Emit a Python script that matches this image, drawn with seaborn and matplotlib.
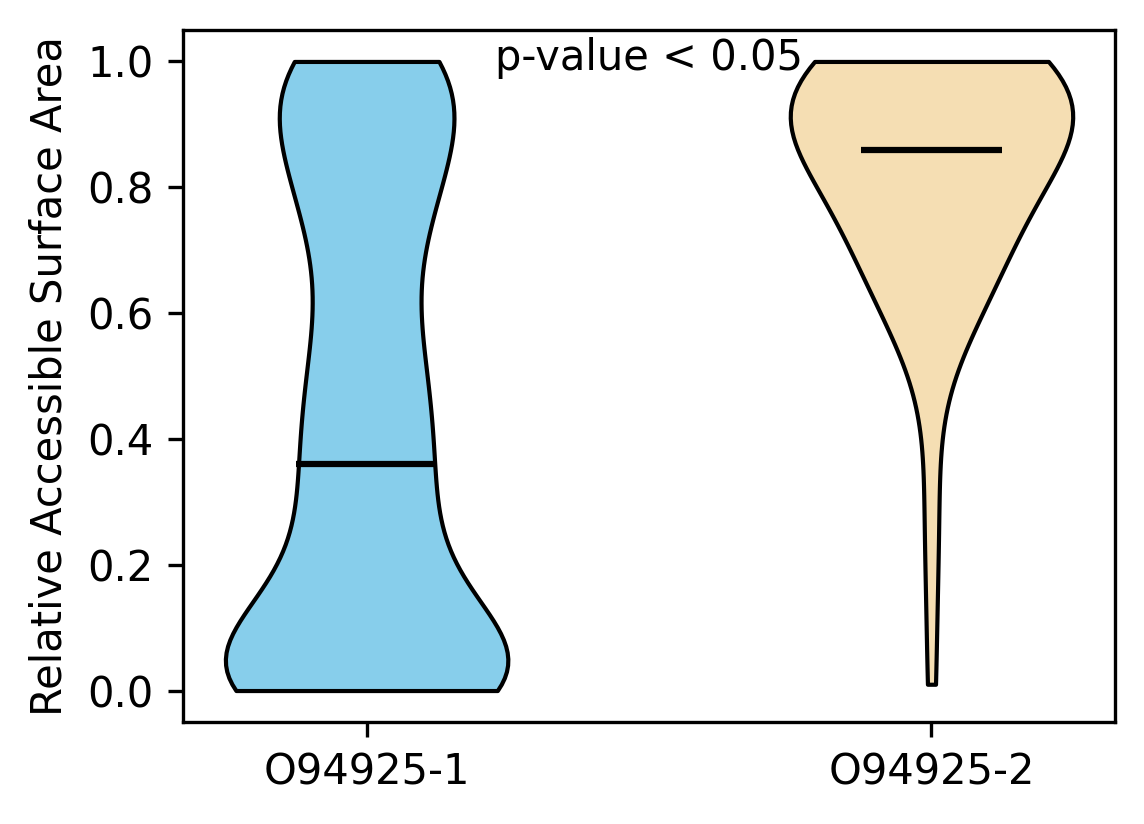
import numpy as np
import pandas as pd
import matplotlib
matplotlib.use('Agg')
import matplotlib.pyplot as plt
import seaborn as sns

# %% Dados (RSA por resíduo)
isoforms = ['O94925-1', 'O94925-2']
colors = ['skyblue', 'wheat']
p_label = 'p-value < 0.05'

rsa_iso1 = [0.0, 0.0, 0.0, 0.0, 0.0, 0.0, 0.0, 0.0,
            0.01, 0.02, 0.03, 0.04, 0.05, 0.06, 0.07, 0.08, 0.115, 0.13,
            0.15, 0.17, 0.20, 0.23, 0.26, 0.29, 0.32, 0.35,
            0.37, 0.40, 0.43, 0.46, 0.49, 0.52, 0.55, 0.59, 0.63,
            0.68, 0.72, 0.75, 0.78, 0.80, 0.83, 0.85, 0.87, 0.89,
            0.925, 0.94, 0.96, 0.98, 1.0, 1.0, 1.0, 1.0]

rsa_iso2 = [0.01, 0.17, 0.28, 0.37,
            0.52, 0.56, 0.59,
            0.60, 0.61, 0.625, 0.63, 0.64, 0.65, 0.655, 0.67, 0.683, 0.695,
            0.705, 0.713, 0.721, 0.729, 0.737, 0.745, 0.753, 0.761, 0.769, 0.777,
            0.792,
            0.815, 0.825, 0.832, 0.838, 0.843, 0.847, 0.85, 0.852, 0.854, 0.856,
            0.858, 0.859,
            0.861, 0.89, 0.90, 0.905, 0.91,
            0.904, 0.908, 0.912, 0.916, 0.920, 0.924, 0.928, 0.932, 0.936,
            0.940, 0.944, 0.948, 0.952, 0.956, 0.960, 0.964, 0.968, 0.972, 0.976,
            0.980, 0.984, 0.988, 0.992, 0.996,
            1.0, 1.0, 1.0, 1.0, 1.0, 1.0, 1.0, 1.0, 1.0, 1.0, 1.0]

bw_adjust = [0.6, 1.35]

df = pd.DataFrame({
    'isoform': [isoforms[0]] * len(rsa_iso1) + [isoforms[1]] * len(rsa_iso2),
    'rsa': rsa_iso1 + rsa_iso2,
})

# %% Gráfico
fig, ax = plt.subplots(figsize=(1144 / 300, 824 / 300), dpi=300)

for i, iso in enumerate(isoforms):
    sns.violinplot(data=df[df.isoform == iso], x='isoform', y='rsa', order=isoforms,
                   color=colors[i], saturation=1, cut=0, inner=None, width=0.5,
                   density_norm='width', bw_adjust=bw_adjust[i],
                   linecolor='black', linewidth=1, ax=ax)
    med = df.loc[df.isoform == iso, 'rsa'].median()
    ax.hlines(med, i - 0.125, i + 0.125, color='black', linewidth=1.5, zorder=5)

ax.text(0.5, 1.005, p_label, ha='center', va='center', fontsize=10)

ax.set_xlim(-0.325, 1.325)
ax.set_ylim(-0.05, 1.05)
ax.set_xlabel('')
ax.set_ylabel('Relative Accessible Surface Area')

fig.subplots_adjust(left=0.16, right=0.9747, bottom=0.1238, top=0.9636)
plt.savefig('out.png', dpi=300)
